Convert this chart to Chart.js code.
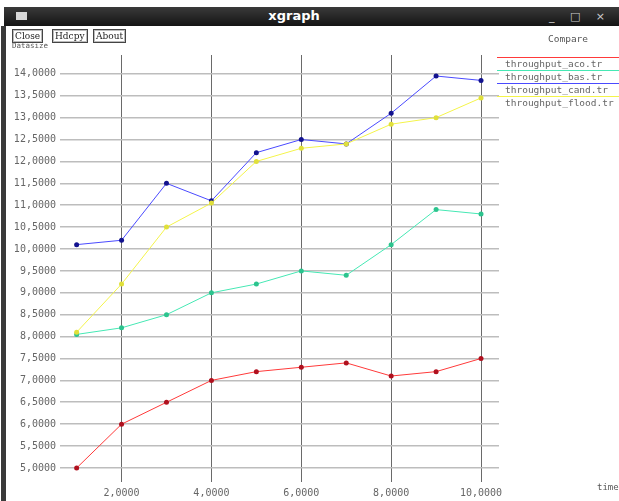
<!DOCTYPE html>
<html>
<head>
<meta charset="utf-8">
<script src="https://cdn.jsdelivr.net/npm/chart.js@4.4.1/dist/chart.umd.min.js"></script>
<style>
    body { margin: 0; background: #fff; width: 619px; height: 501px; overflow: hidden; position: relative; font-family: 'DejaVu Sans Mono', monospace; }
    #plot { position: absolute; left: 0; top: 0; }
    .titlebar { position: absolute; left: 4px; top: 7px; width: 615px; height: 19px; background: linear-gradient(#3a3a3a, #141414); }
    .titlebar__icon { position: absolute; left: 12px; top: 5px; width: 11px; height: 8px; background: #d8d8d8; }
    .titlebar__text { position: absolute; left: 0; width: 580px; top: 1px; text-align: center; color: #fff; font: bold 13px 'DejaVu Sans', sans-serif; }
    .titlebar__btns { position: absolute; right: 8px; top: 3px; color: #ccc; font: 11px 'DejaVu Sans', sans-serif; letter-spacing: 6px; }
    .leftbar { position: absolute; left: 1px; top: 26px; width: 5px; height: 475px; background: #3a3a3a; }
    .btn { position: absolute; top: 29px; height: 12px; border: 1px solid #444; font: 9px 'DejaVu Serif', serif; color: #222; line-height: 12px; padding: 0 2px; box-shadow: inset 0 0 0 1px #bbb; }
    .small { position: absolute; color: #555; font-size: 10px; }
    .legend { position: absolute; left: 497px; top: 53px; width: 122px; }
    .legend__item { height: 13px; position: relative; }
    .legend__line { position: absolute; left: 0; right: 0; top: 4px; height: 1px; }
    .legend__label { position: absolute; left: 8px; top: 5px; font-size: 9.5px; color: #666; white-space: nowrap; }
</style>
</head>
<body>
<canvas id="plot" width="619" height="501"></canvas>
<div class="titlebar">
    <div class="titlebar__icon"></div>
    <div class="titlebar__text">xgraph</div>
    <div class="titlebar__btns">_ □ ×</div>
</div>
<div class="leftbar"></div>
<div class="btn" style="left:12px">Close</div>
<div class="btn" style="left:52px">Hdcpy</div>
<div class="btn" style="left:93px">About</div>
<div class="small" style="left:12px; top:41px; font-size:7.5px;">Datasize</div>
<div class="small" style="left:548px; top:33px; font-size:9.5px;">Compare</div>
<div class="small" style="left:597px; top:482px; font-size:9px;">time</div>
<div class="legend" id="legend"></div>

<script>
const xValues = [1, 2, 3, 4, 5, 6, 7, 8, 9, 10];
const seriesNames = ['throughput_aco.tr', 'throughput_bas.tr', 'throughput_cand.tr', 'throughput_flood.tr'];
const acoValues   = [5.0, 6.0, 6.5, 7.0, 7.2, 7.3, 7.4, 7.1, 7.2, 7.5];
const basValues   = [8.05, 8.2, 8.5, 9.0, 9.2, 9.5, 9.4, 10.1, 10.9, 10.8];
const candValues  = [10.1, 10.2, 11.5, 11.1, 12.2, 12.5, 12.4, 13.1, 13.95, 13.85];
const floodValues = [8.1, 9.2, 10.5, 11.05, 12.0, 12.3, 12.4, 12.85, 13.0, 13.45];
const xTicks = [2, 4, 6, 8, 10];
const yTicks = [5, 5.5, 6, 6.5, 7, 7.5, 8, 8.5, 9, 9.5, 10, 10.5, 11, 11.5, 12, 12.5, 13, 13.5, 14];

const LINE_COLORS  = ['#ff3a3a', '#46e8b4', '#4a4aff', '#f4f44a'];
const POINT_COLORS = ['#b0101e', '#2cc48e', '#12128e', '#e0e03a'];

const fmt = (v) => v.toFixed(4).replace('.', ',');

function makeDataset(name, values, i) {
    return {
        label: name,
        data: values.map((y, k) => ({ x: xValues[k], y })),
        borderColor: LINE_COLORS[i],
        backgroundColor: POINT_COLORS[i],
        pointBorderColor: POINT_COLORS[i],
        pointRadius: 2.5,
        pointBorderWidth: 0,
        borderWidth: 1,
        tension: 0,
        order: -i,
    };
}

const allValues = [acoValues, basValues, candValues, floodValues];

new Chart(document.querySelector('#plot'), {
    type: 'line',
    data: { datasets: allValues.map((v, i) => makeDataset(seriesNames[i], v, i)) },
    options: {
        responsive: false,
        animation: false,
        devicePixelRatio: 1,
        layout: { padding: { top: 55, right: 120, left: 0, bottom: 0 } },
        plugins: { legend: { display: false }, tooltip: { enabled: false } },
        scales: {
            x: {
                type: 'linear', min: 0.63, max: 10.4,
                afterFit: (s) => { s.height = 19; },
                afterBuildTicks: (s) => { s.ticks = xTicks.map((value) => ({ value })); },
                ticks: { callback: fmt, color: '#666', padding: 5, maxRotation: 0,
                         font: { family: 'DejaVu Sans Mono', size: 10 } },
                grid: { color: '#6a6a6a', lineWidth: 1, drawTicks: false },
                border: { display: false },
            },
            y: {
                type: 'linear', min: 4.68, max: 14.43,
                afterFit: (s) => { s.width = 60; },
                afterBuildTicks: (s) => { s.ticks = yTicks.map((value) => ({ value })); },
                ticks: { callback: fmt, color: '#666', padding: 4,
                         font: { family: 'DejaVu Sans Mono', size: 10 } },
                grid: { color: '#bdbdbd', lineWidth: 1.6, drawTicks: false },
                border: { display: false },
            },
        },
    },
});

document.querySelector('#legend').innerHTML = seriesNames.map((name, i) => `
    <div class="legend__item">
      <div class="legend__line" style="background:${LINE_COLORS[i]}"></div>
      <div class="legend__label">${name}</div>
    </div>`).join('');
</script>
</body>
</html>
